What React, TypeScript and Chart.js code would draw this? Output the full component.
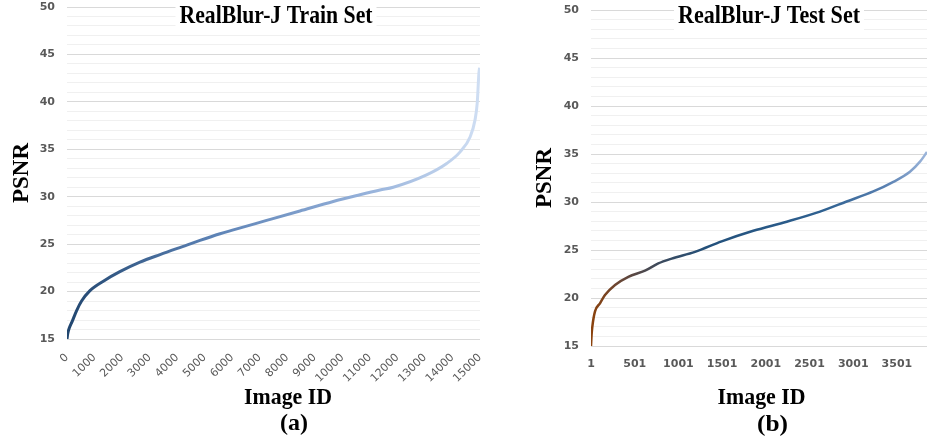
import React, { useEffect, useRef } from 'react';
import { Chart, registerables } from 'chart.js';
Chart.register(...registerables);

// ---- data ----
const trainIds = [0, 30, 90, 181, 350, 530, 835, 1320, 1920, 2650, 3380, 4350, 4830, 5560, 6040, 7250, 8460, 9670, 10640, 11370, 11850, 13060, 13790, 14270, 14640, 14820, 14900, 14960, 14985];
const trainPsnr = [15.0, 15.6, 16.2, 16.8, 18.0, 19.0, 20.1, 21.1, 22.1, 23.1, 23.9, 24.9, 25.4, 26.1, 26.5, 27.5, 28.5, 29.5, 30.2, 30.7, 31.0, 32.3, 33.5, 34.7, 36.3, 38.1, 39.9, 43.0, 43.6];

const testIds = [1, 8, 16, 47, 104, 161, 276, 428, 619, 771, 924, 1191, 1496, 1858, 2240, 2621, 2926, 3231, 3460, 3650, 3765, 3845];
const testPsnr = [15.0, 16.2, 17.0, 18.6, 19.45, 20.3, 21.35, 22.2, 22.85, 23.6, 24.1, 24.8, 25.9, 27.0, 27.95, 29.0, 30.05, 31.1, 32.1, 33.15, 34.2, 35.2];

const yLabelTicks = [15, 20, 25, 30, 35, 40, 45, 50];
const trainXTicks = [0, 1000, 2000, 3000, 4000, 5000, 6000, 7000, 8000, 9000, 10000, 11000, 12000, 13000, 14000, 15000];
const testXTicks = [1, 501, 1001, 1501, 2001, 2501, 3001, 3501];
const testXMax = 3845;

const trainStops: [number, string][] = [[0, '#21466f'], [0.35, '#5c82b5'], [0.72, '#95b1da'], [1, '#cfdef3']];
const testStops: [number, string][] = [[0, '#8c420c'], [0.08, '#6b4633'], [0.2, '#3d4a5c'], [0.35, '#22507b'], [0.7, '#2f6191'], [0.88, '#5a81b2'], [1, '#9db6db']];

const SERIF = '"Liberation Serif", "DejaVu Serif", serif';

function gradient(chart: any, stops: [number, string][]) {
  const area = chart.chartArea;
  if (!area) return stops[0][1];
  const g = chart.ctx.createLinearGradient(area.left, 0, area.right, 0);
  stops.forEach(([o, c]) => g.addColorStop(o, c));
  return g;
}

type TextItem = { text: string; x: number; y: number; size: number; width: number; box?: boolean };

function textPlugin(items: TextItem[]) {
  return {
    id: 'captions',
    afterDraw(chart: any) {
      const ctx = chart.ctx;
      items.forEach((it) => {
        ctx.save();
        ctx.font = `bold ${it.size}px ${SERIF}`;
        ctx.textAlign = 'center';
        ctx.textBaseline = 'alphabetic';
        const w = ctx.measureText(it.text).width;
        const sx = it.width / w;
        if (it.box) {
          ctx.fillStyle = '#ffffff';
          ctx.fillRect(it.x - it.width / 2 - 4, 0, it.width + 8, it.y + 8);
        }
        ctx.translate(it.x, it.y);
        ctx.scale(sx, 1);
        ctx.fillStyle = '#000000';
        ctx.fillText(it.text, 0, 0);
        ctx.restore();
      });
    },
  };
}

function makeConfig(opts: {
  ids: number[]; psnr: number[]; stops: [number, string][]; xMin: number; xMax: number; xTicks: number[];
  yWidth: number; xHeight: number; padTop: number; padRight: number; rotate: boolean; lineWidth: number;
  titlePad: number; texts: TextItem[]; tickPad: number;
}) {
  return {
    type: 'line' as const,
    data: {
      datasets: [
        {
          data: opts.ids.map((x, i) => ({ x, y: opts.psnr[i] })),
          borderColor: (c: any) => gradient(c.chart, opts.stops),
          borderWidth: opts.lineWidth,
          pointRadius: 0,
          cubicInterpolationMode: 'monotone' as const,
          fill: false,
        },
      ],
    },
    options: {
      responsive: false,
      maintainAspectRatio: false,
      animation: false as const,
      layout: { padding: { top: opts.padTop, right: opts.padRight, left: 0, bottom: 0 } },
      plugins: { legend: { display: false }, tooltip: { enabled: false }, title: { display: false } },
      scales: {
        x: {
          type: 'linear' as const,
          min: opts.xMin,
          max: opts.xMax,
          afterBuildTicks: (s: any) => { s.ticks = opts.xTicks.map((v) => ({ value: v })); },
          afterFit: (s: any) => { s.height = opts.xHeight; s.paddingLeft = 0; s.paddingRight = 0; },
          ticks: {
            autoSkip: false,
            maxRotation: opts.rotate ? 45 : 0,
            minRotation: opts.rotate ? 45 : 0,
            callback: (v: any) => String(v),
            font: { family: '"DejaVu Sans"', size: 11, weight: opts.rotate ? 'normal' : 'bold' },
            color: '#595959',
            padding: opts.tickPad,
          },
          grid: { display: false, drawTicks: false },
          border: { display: false },
        },
        y: {
          min: 15,
          max: 50,
          afterFit: (s: any) => { s.width = opts.yWidth; s.paddingTop = 0; s.paddingBottom = 0; },
          ticks: {
            stepSize: 1,
            maxTicksLimit: 100,
            autoSkip: false,
            callback: (v: any) => (yLabelTicks.includes(v) ? String(v) : ''),
            font: { family: '"DejaVu Sans"', size: 11, weight: 'bold' },
            color: '#595959',
            padding: 12,
          },
          grid: {
            drawTicks: false,
            color: (c: any) => (c.tick && c.tick.value % 5 === 0 ? '#d9d9d9' : '#f0f0f0'),
            lineWidth: 1,
          },
          border: { display: false },
          title: {
            display: true,
            text: 'PSNR',
            font: { family: SERIF, size: 23, weight: 'bold' },
            color: '#000000',
            padding: { top: opts.titlePad, bottom: 0 },
          },
        },
      },
    },
    plugins: [textPlugin(opts.texts)],
  };
}

export default function App() {
  const leftRef = useRef<HTMLCanvasElement>(null);
  const rightRef = useRef<HTMLCanvasElement>(null);

  useEffect(() => {
    const left = new Chart(leftRef.current as HTMLCanvasElement, makeConfig({
      ids: trainIds, psnr: trainPsnr, stops: trainStops, xMin: 0, xMax: 15000, xTicks: trainXTicks,
      yWidth: 67, xHeight: 105, padTop: 7, padRight: 20, rotate: true, lineWidth: 3, titlePad: 8, tickPad: 12,
      texts: [
        { text: 'RealBlur-J Train Set', x: 276, y: 22.5, size: 25, width: 193, box: true },
        { text: 'Image ID', x: 288, y: 404, size: 24, width: 88 },
        { text: '(a)', x: 294, y: 430, size: 24, width: 28 },
      ],
    }) as any);
    const right = new Chart(rightRef.current as HTMLCanvasElement, makeConfig({
      ids: testIds, psnr: testPsnr, stops: testStops, xMin: 1, xMax: testXMax, xTicks: testXTicks,
      yWidth: 71, xHeight: 98, padTop: 10, padRight: 0, rotate: false, lineWidth: 2.5, titlePad: 11, tickPad: 12,
      texts: [
        { text: 'RealBlur-J Test Set', x: 249, y: 23, size: 25, width: 182, box: true },
        { text: 'Image ID', x: 241.5, y: 404, size: 24, width: 88 },
        { text: '(b)', x: 252.5, y: 431, size: 24, width: 31 },
      ],
    }) as any);
    return () => { left.destroy(); right.destroy(); };
  }, []);

  return (
    <div style={{ position: 'absolute', left: 0, top: 0, width: 927, height: 444, background: '#ffffff' }}>
      <canvas ref={leftRef} width={500} height={444} style={{ position: 'absolute', left: 0, top: 0, width: 500, height: 444 }} />
      <canvas ref={rightRef} width={407} height={444} style={{ position: 'absolute', left: 520, top: 0, width: 407, height: 444 }} />
    </div>
  );
}
